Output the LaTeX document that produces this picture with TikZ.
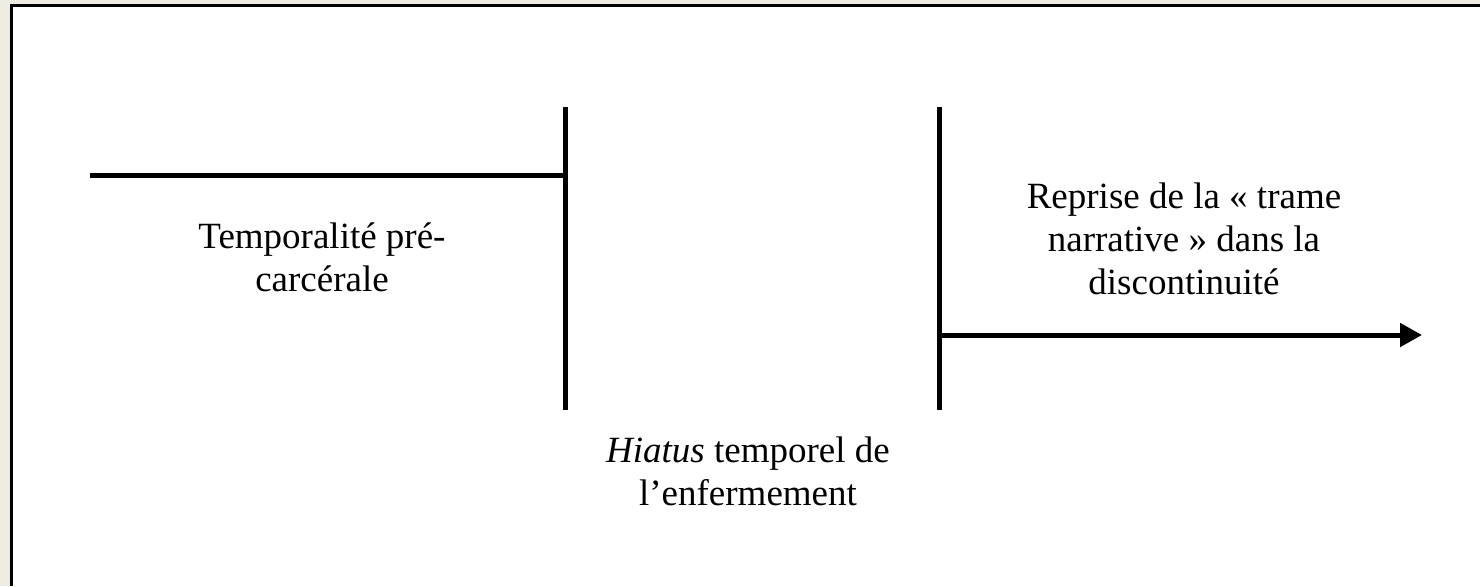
\documentclass[tikz,border=0pt]{standalone}
\usepackage{fontspec}
\setmainfont{Liberation Serif}
\usetikzlibrary{arrows.meta}
\definecolor{beige}{RGB}{238,235,227}
\begin{document}
\begin{tikzpicture}[x=0.5pt,y=-0.5pt,
  bar/.style={line width=2.5pt,line cap=butt},
  lbl/.style={align=center,inner sep=0pt,anchor=base,font=\fontsize{18.5pt}{21.5pt}\selectfont}]
\useasboundingbox (0,0) rectangle (1480,586);
\fill[beige] (0,0) rectangle (1480,586);
\fill[white] (11.5,5.5) rectangle (1480,586);
\draw[line width=1.5pt] (11.5,586) -- (11.5,5.5) -- (1480,5.5);
\coordinate (h1s) at (90,175);
\coordinate (v1t) at (565.5,107);
\coordinate (v1b) at (565.5,410);
\coordinate (v2t) at (939.5,107);
\coordinate (v2b) at (939.5,410);
\coordinate (h1e) at (v1t |- h1s);
\coordinate (a1s) at (939.5,335);
\coordinate (a1e) at (1422,335);
\draw[bar] (h1s) -- (h1e);
\draw[bar] (v1t) -- (v1b);
\draw[bar] (v2t) -- (v2b);
\draw[bar,-{Triangle[length=11pt,width=11.5pt]}] (a1s) -- (a1e);
\node[lbl] (t1) at (322,291) {Temporalité pré-\\carcérale};
\node[lbl] (t2) at (1184,294) {Reprise de la « trame\\narrative » dans la\\discontinuité};
\node[lbl] (t3) at (748,505) {\textit{Hiatus} temporel de\\l’enfermement};
\end{tikzpicture}
\end{document}
